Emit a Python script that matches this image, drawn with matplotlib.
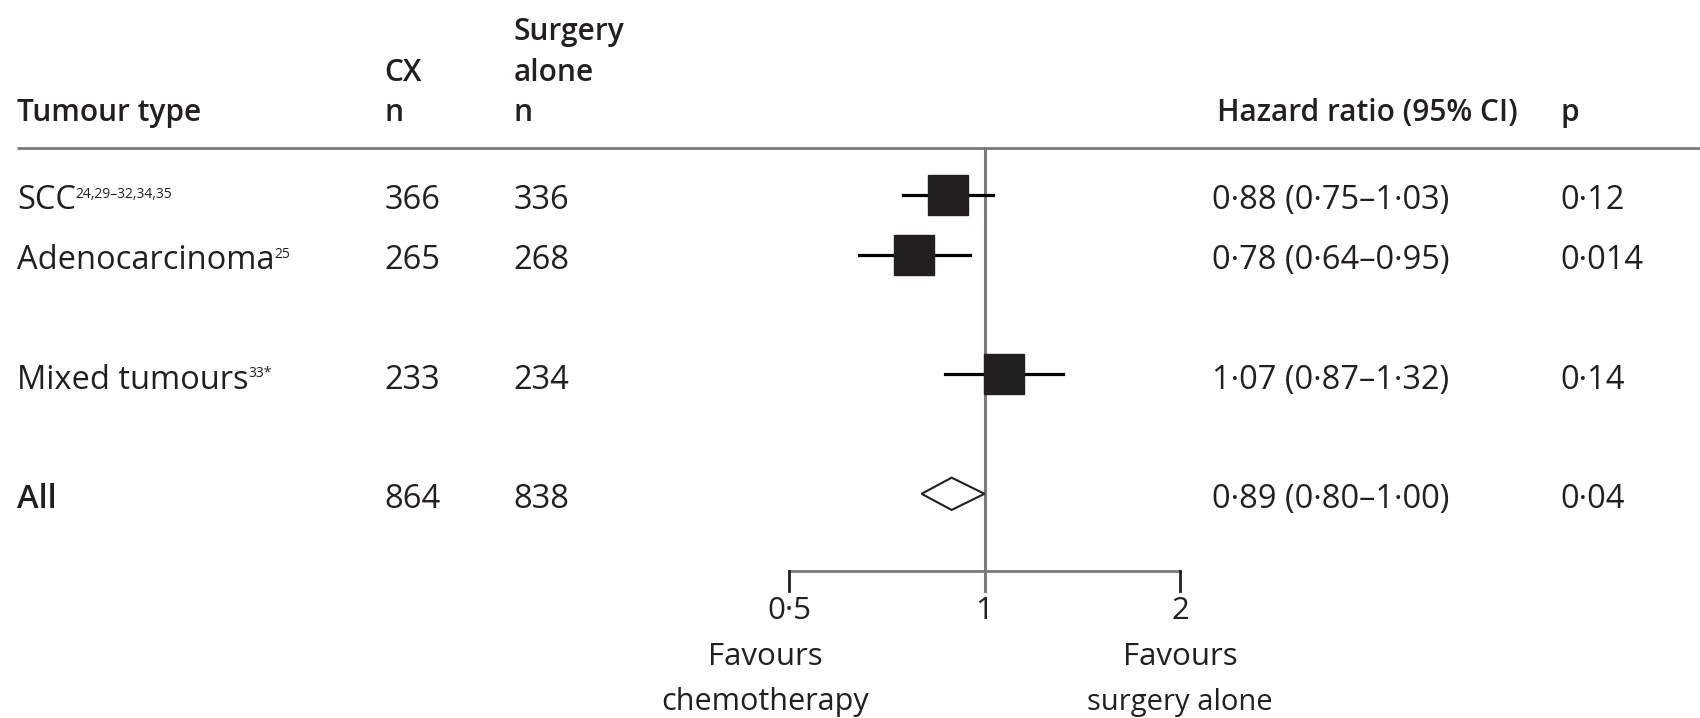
import matplotlib.pyplot as plt
from matplotlib.patches import Polygon
from matplotlib.transforms import blended_transform_factory

# Table rows
tumour_types = ["SCC", "Adenocarcinoma", "Mixed tumours", "All"]
refs = ["24,29\u201332,34,35", "25", "33*", ""]
cx_n = [366, 265, 233, 864]
surgery_n = [336, 268, 234, 838]
hr = [0.88, 0.78, 1.07, 0.89]
ci_low = [0.75, 0.64, 0.87, 0.80]
ci_high = [1.03, 0.95, 1.32, 1.00]
p_values = ["0\u00b712", "0\u00b7014", "0\u00b714", "0\u00b704"]
row_pos = [0, 1, 3, 5]

ticks = [0.5, 1, 2]
tick_labels = ["0\u00b75", "1", "2"]


def lancet(x):
    # decimal point as a middle dot
    return f"{x:.2f}".replace(".", "\u00b7")


plt.rcParams['font.family'] = ['Open Sans', 'DejaVu Sans']
INK = '#231f20'
GREY = '#7a7a7a'
FS = 23.5

fig = plt.figure(figsize=(17, 7.18), dpi=100)
# forest panel: x from 0.5 to 2 on a log scale, y in row units
ax = fig.add_axes([789 / 1700, 0, (1180 - 789) / 1700, 1])
ax.set_xscale('log')
ax.set_xlim(0.5, 2)
ax.set_ylim(8.75, -3.26)
ax.axis('off')

cols = blended_transform_factory(fig.transFigure, ax.transData)

# header
hdr = dict(fontsize=21.5, fontweight='semibold', color=INK, transform=cols, va='center')
ax.text(0.010, -1.37, "Tumour type", **hdr)
ax.text(0.226, -2.04, "CX", **hdr)
ax.text(0.226, -1.37, "n", **hdr)
ax.text(0.302, -2.72, "Surgery", **hdr)
ax.text(0.302, -2.04, "alone", **hdr)
ax.text(0.302, -1.37, "n", **hdr)
ax.text(0.716, -1.37, "Hazard ratio (95% CI)", **hdr)
ax.text(0.918, -1.37, "p", **hdr)
ax.plot([0.010, 1.0], [-0.79, -0.79], color=GREY, lw=2, transform=cols,
        clip_on=False, solid_capstyle='butt')

# line of no effect and the x axis
ax.plot([1, 1], [-0.79, 6.62], color=GREY, lw=2.2, clip_on=False)
ax.plot([ticks[0], ticks[-1]], [6.29, 6.29], color=GREY, lw=2, clip_on=False)
for t, lab in zip(ticks, tick_labels):
    if t != 1:
        ax.plot([t, t], [6.29, 6.62], color=INK, lw=2, clip_on=False)
    ax.text(t, 6.96, lab, fontsize=22.5, color=INK, ha='center', va='center')
ax.annotate("Favours", xy=(0.5, 7.73), xytext=(-17, 0), textcoords='offset points',
            fontsize=22.5, color=INK, ha='center', va='center')
ax.annotate("chemotherapy", xy=(0.5, 8.49), xytext=(-17, 0), textcoords='offset points',
            fontsize=22, color=INK, ha='center', va='center')
ax.text(2, 7.73, "Favours", fontsize=22.5, color=INK, ha='center', va='center')
ax.text(2, 8.49, "surgery alone", fontsize=21, color=INK, ha='center', va='center')

# rows
for i, y in enumerate(row_pos):
    ty = y + 0.1
    weight = 'semibold' if tumour_types[i] == "All" else 'normal'
    lab = ax.text(0.010, ty, tumour_types[i], fontsize=FS, fontweight=weight,
                  color=INK, transform=cols, va='center')
    if refs[i]:
        ax.annotate(refs[i], xy=(1, 0.92), xycoords=lab, fontsize=10, color=INK,
                    ha='left', va='top')
    ax.text(0.226, ty, str(cx_n[i]), fontsize=FS, color=INK, transform=cols, va='center')
    ax.text(0.302, ty, str(surgery_n[i]), fontsize=FS, color=INK, transform=cols, va='center')
    ax.text(0.713, ty, f"{lancet(hr[i])} ({lancet(ci_low[i])}\u2013{lancet(ci_high[i])})",
            fontsize=FS, color=INK, transform=cols, va='center')
    ax.text(0.918, ty, p_values[i], fontsize=FS, color=INK, transform=cols, va='center')

    if tumour_types[i] == "All":
        diamond = Polygon([(ci_low[i], y), (hr[i], y - 0.27), (ci_high[i], y), (hr[i], y + 0.27)],
                          closed=True, facecolor='white', edgecolor=INK, lw=1.5,
                          clip_on=False, zorder=3)
        ax.add_patch(diamond)
    else:
        ax.plot([ci_low[i], ci_high[i]], [y, y], color='black', lw=2.3, clip_on=False, zorder=3)
        ax.plot(hr[i], y, marker='s', markersize=29, color=INK, clip_on=False, zorder=4)

fig.savefig('out.png', dpi=100)
